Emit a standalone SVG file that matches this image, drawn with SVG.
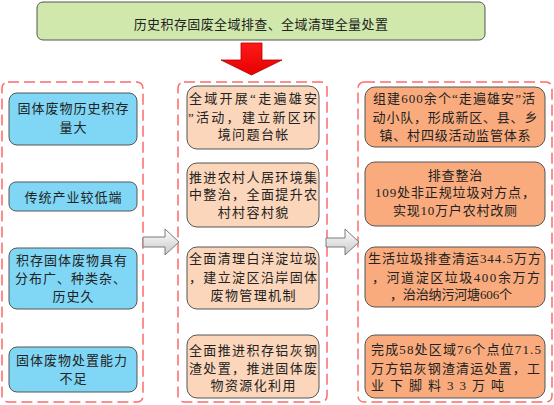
<svg xmlns="http://www.w3.org/2000/svg" width="554" height="405" viewBox="0 0 554 405">
<defs>
<linearGradient id="hg" x1="0" y1="0" x2="0" y2="1">
<stop offset="0" stop-color="#ffffff"/>
<stop offset="1" stop-color="#c8c8c8"/>
</linearGradient>
<linearGradient id="rg" x1="0" y1="0" x2="0" y2="1">
<stop offset="0" stop-color="#ff1a1a"/>
<stop offset="1" stop-color="#e60000"/>
</linearGradient>
</defs>
<style>
.t{font-family:"Liberation Serif","Noto Sans CJK SC",sans-serif;font-size:13px;fill:#222;text-anchor:middle}
.l{letter-spacing:1px}
.m{letter-spacing:1.4px}
.r{letter-spacing:0.8px}
.n{letter-spacing:0px}
.box{fill:none;stroke:#ff6a6a;stroke-width:1.5;stroke-dasharray:11 5}
.blue{fill:#7fd6f5;stroke:#555;stroke-width:1}
.peach{fill:#fbd6bb;stroke:#555;stroke-width:1}
.orange{fill:#f9ab7d;stroke:#555;stroke-width:1}
.harrow{fill:url(#hg);stroke:#7a7a7a;stroke-width:1}
</style>
<rect width="554" height="405" fill="#ffffff"/>

<g id="title">
<rect x="37" y="2" width="448" height="38" rx="6" fill="#d1e8ad" stroke="#555" stroke-width="1"/>
<text class="t" x="261" y="29" style="letter-spacing:0.4px">历史积存固废全域排查、全域清理全量处置</text>
</g>

<g id="containers">
<rect class="box" x="2" y="82" width="141" height="320" rx="6"/>
<rect class="box" x="178" y="82" width="149" height="320" rx="6"/>
<rect class="box" x="358" y="82" width="194" height="320" rx="6"/>
</g>

<g id="connectors">
<polygon points="241,43 262,43 262,60 282,60 251.5,75 221,60 241,60" fill="url(#rg)" stroke="#b00000" stroke-width="0.8"/>
<polygon class="harrow" points="143,237 165,237 165,229 179,242 165,255 165,247 143,247"/>
<polygon class="harrow" points="326,238 345,238 345,229 359,242 345,255 345,247 326,247"/>
</g>

<g id="left1">
<rect class="blue" x="9" y="93" width="128" height="52" rx="8"/>
<text class="t l" x="73.5" y="113">固体废物历史积存</text>
<text class="t l" x="73.5" y="132">量大</text>
</g>
<g id="left2">
<rect class="blue" x="9" y="182" width="128" height="29" rx="7"/>
<text class="t l" x="73.5" y="202">传统产业较低端</text>
</g>
<g id="left3">
<rect class="blue" x="9" y="248" width="128" height="61" rx="8"/>
<text class="t l" x="72" y="265">积存固体废物具有</text>
<text class="t l" x="71" y="283">分布广、种类杂、</text>
<text class="t l" x="73.5" y="301">历史久</text>
</g>
<g id="left4">
<rect class="blue" x="9" y="347" width="128" height="45" rx="8"/>
<text class="t l" x="72" y="365">固体废物处置能力</text>
<text class="t l" x="73.5" y="383">不足</text>
</g>

<g id="mid1">
<rect class="peach" x="187" y="86" width="132" height="63" rx="10"/>
<text class="t n" x="253" y="103" textLength="128" lengthAdjust="spacing">全域开展“走遍雄安</text>
<text class="t n" x="252" y="122" textLength="128" lengthAdjust="spacing">”活动，建立新区环</text>
<text class="t m" x="253.7" y="139">境问题台帐</text>
</g>
<g id="mid2">
<rect class="peach" x="187" y="163" width="132" height="64" rx="10"/>
<text class="t m" x="253.7" y="182">推进农村人居环境集</text>
<text class="t m" x="253.7" y="199">中整治，全面提升农</text>
<text class="t m" x="253.7" y="217">村村容村貌</text>
</g>
<g id="mid3">
<rect class="peach" x="187" y="247" width="132" height="62" rx="10"/>
<text class="t m" x="253.7" y="263">全面清理白洋淀垃圾</text>
<text class="t m" x="253.7" y="282">，建立淀区沿岸固体</text>
<text class="t m" x="253.7" y="300">废物管理机制</text>
</g>
<g id="mid4">
<rect class="peach" x="187" y="335" width="132" height="63" rx="10"/>
<text class="t m" x="253.7" y="355">全面推进积存铝灰钢</text>
<text class="t m" x="253.7" y="373">渣处置，推进固体废</text>
<text class="t m" x="253.7" y="390">物资源化利用</text>
</g>

<g id="right1">
<rect class="orange" x="365" y="87" width="180" height="60" rx="10"/>
<text class="t n" x="454" y="103" textLength="162" lengthAdjust="spacing">组建600余个“走遍雄安”活</text>
<text class="t r" x="455.4" y="122">动小队，形成新区、县、乡</text>
<text class="t r" x="455.4" y="140">镇、村四级活动监管体系</text>
</g>
<g id="right2">
<rect class="orange" x="365" y="162" width="180" height="64" rx="10"/>
<text class="t r" x="455.4" y="180">排查整治</text>
<text class="t n" x="455" y="197" textLength="160" lengthAdjust="spacing">109处非正规垃圾对方点，</text>
<text class="t n" x="455" y="215" textLength="124" lengthAdjust="spacing">实现10万户农村改厕</text>
</g>
<g id="right3">
<rect class="orange" x="365" y="247" width="180" height="60" rx="10"/>
<text class="t n" x="454.5" y="263" textLength="173" lengthAdjust="spacing">生活垃圾排查清运344.5万方</text>
<text class="t n" x="456" y="282" textLength="168" lengthAdjust="spacing">，河道淀区垃圾400余万方</text>
<text class="t n" x="451" y="299" textLength="122" lengthAdjust="spacing">，治治纳污河塘606个</text>
</g>
<g id="right4">
<rect class="orange" x="365" y="335" width="180" height="63" rx="10"/>
<text class="t n" x="456" y="354" textLength="170" lengthAdjust="spacing">完成58处区域76个点位71.5</text>
<text class="t n" x="455.5" y="373" textLength="169" lengthAdjust="spacing">万方铝灰钢渣清运处置，工</text>
<text class="t n" x="371" y="390" textLength="133" lengthAdjust="spacing" style="text-anchor:start">业下脚料33万吨</text>
</g>
</svg>
